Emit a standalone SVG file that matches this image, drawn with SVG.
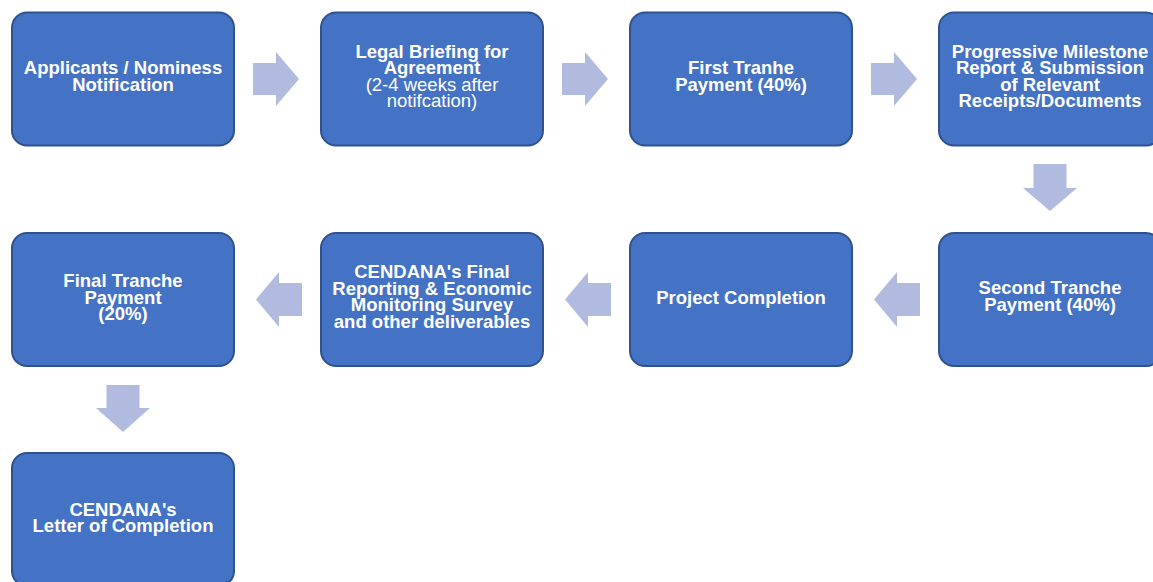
<svg xmlns="http://www.w3.org/2000/svg" width="1153" height="582" viewBox="0 0 1153 582">
<style>
.box{fill:#4472C4;stroke:#2F528F;stroke-width:2}
.arr{fill:#B0BBDF}
text{font-family:"Liberation Sans",Arial,Helvetica,sans-serif;font-size:18.5px;fill:#FFFFFF;text-anchor:middle}
.b{font-weight:bold}
</style>
<rect width="1153" height="582" fill="#FFFFFF"/>
<g id="connectors">
<polygon class="arr" points="253,63 276,63 276,52 299,79 276,106 276,95 253,95"/>
<polygon class="arr" points="562,63 585,63 585,52 608,79 585,106 585,95 562,95"/>
<polygon class="arr" points="871,63 894,63 894,52 917,79 894,106 894,95 871,95"/>
<polygon class="arr" points="1033.5,164 1066.5,164 1066.5,188 1077,188 1050,211 1023,188 1033.5,188"/>
<polygon class="arr" points="920,283 897,283 897,272 874,299.5 897,327 897,316 920,316"/>
<polygon class="arr" points="611,283 588,283 588,272 565,299.5 588,327 588,316 611,316"/>
<polygon class="arr" points="302,283 279,283 279,272 256,299.5 279,327 279,316 302,316"/>
<polygon class="arr" points="106.5,385 139.5,385 139.5,408 150,408 123,432 96,408 106.5,408"/>
</g>
<g id="n1">
<rect class="box" x="12" y="12.5" width="222" height="133" rx="15"/>
<text class="b" x="123" y="73.5">Applicants / Nominess</text>
<text class="b" x="123" y="90.5">Notification</text>
</g>
<g id="n2">
<rect class="box" x="321" y="12.5" width="222" height="133" rx="15"/>
<text class="b" x="432" y="57.5">Legal Briefing for</text>
<text class="b" x="432" y="74">Agreement</text>
<text x="432" y="90.7">(2-4 weeks after</text>
<text x="432" y="107.3">notifcation)</text>
</g>
<g id="n3">
<rect class="box" x="630" y="12.5" width="222" height="133" rx="15"/>
<text class="b" x="741" y="74">First Tranhe</text>
<text class="b" x="741" y="90.7">Payment (40%)</text>
</g>
<g id="n4">
<rect class="box" x="939" y="12.5" width="222" height="133" rx="15"/>
<text class="b" x="1050" y="57.5">Progressive Milestone</text>
<text class="b" x="1050" y="74">Report &amp; Submission</text>
<text class="b" x="1050" y="90.7">of Relevant</text>
<text class="b" x="1050" y="107.3">Receipts/Documents</text>
</g>
<g id="n5">
<rect class="box" x="939" y="233" width="222" height="133" rx="15"/>
<text class="b" x="1050" y="294">Second Tranche</text>
<text class="b" x="1050" y="310.7">Payment (40%)</text>
</g>
<g id="n6">
<rect class="box" x="630" y="233" width="222" height="133" rx="15"/>
<text class="b" x="741" y="304">Project Completion</text>
</g>
<g id="n7">
<rect class="box" x="321" y="233" width="222" height="133" rx="15"/>
<text class="b" x="432" y="278">CENDANA's Final</text>
<text class="b" x="432" y="294.5">Reporting &amp; Economic</text>
<text class="b" x="432" y="311">Monitoring Survey</text>
<text class="b" x="432" y="327.5">and other deliverables</text>
</g>
<g id="n8">
<rect class="box" x="12" y="233" width="222" height="133" rx="15"/>
<text class="b" x="123" y="287">Final Tranche</text>
<text class="b" x="123" y="303.5">Payment</text>
<text class="b" x="123" y="320">(20%)</text>
</g>
<g id="n9">
<rect class="box" x="12" y="453" width="222" height="133" rx="15"/>
<text class="b" x="123" y="515.7">CENDANA's</text>
<text class="b" x="123" y="532.3">Letter of Completion</text>
</g>
</svg>
